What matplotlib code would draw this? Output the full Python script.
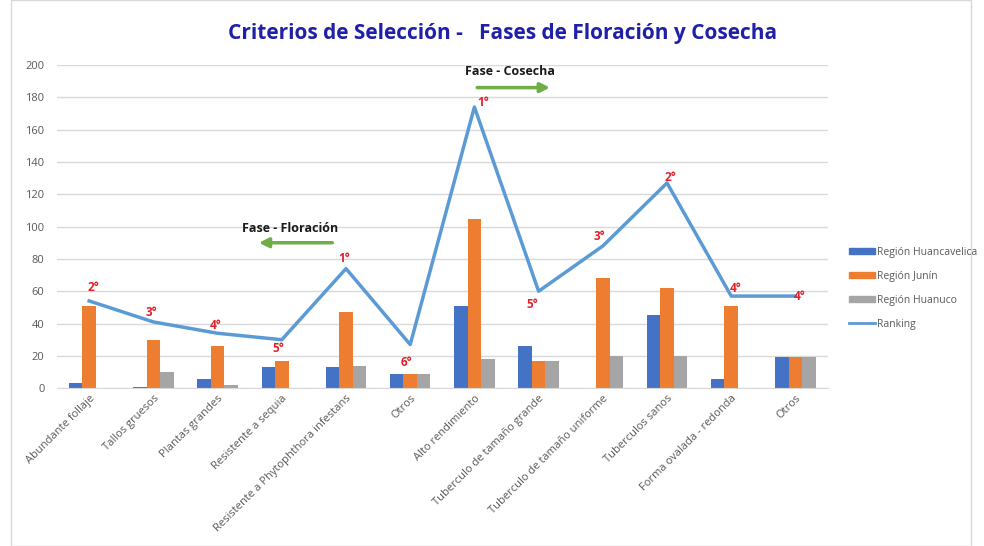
import numpy as np
import matplotlib
matplotlib.use("Agg")
import matplotlib.pyplot as plt
from matplotlib.patches import Patch, Rectangle
from matplotlib.lines import Line2D

plt.rcParams['font.family'] = ['Open Sans', 'DejaVu Sans']

CATEGORIES = [
    "Abundante follaje", "Tallos gruesos", "Plantas grandes", "Resistente a sequia",
    "Resistente a Phytophthora infestans", "Otros", "Alto rendimiento",
    "Tuberculo de tamaño grande", "Tuberculo de tamaño uniforme", "Tuberculos sanos",
    "Forma ovalada - redonda", "Otros",
]
HUANCAVELICA = [3, 1, 6, 13, 13, 9, 51, 26, 0, 45, 6, 19]
JUNIN = [51, 30, 26, 17, 47, 9, 105, 17, 68, 62, 51, 19]
HUANUCO = [0, 10, 2, 0, 14, 9, 18, 17, 20, 20, 0, 19]
RANKING = [54, 41, 34, 30, 74, 27, 174, 60, 88, 127, 57, 57]
RANK_LABELS = ["2°", "3°", "4°", "5°", "1°", "6°", "1°", "5°", "3°", "2°", "4°", "4°"]
# label offsets in pixels (dx, dy) relative to the ranking point
RANK_OFFSETS = [(4, 13), (-2, 9), (-2, 8), (-3, -9), (-2, 10), (-4, -18),
                (9, 4), (-6, -13), (-3, 9), (3, 5), (4, 8), (4, 0)]

BLUE = "#4472C4"
ORANGE = "#ED7D31"
GRAY = "#A5A5A5"
LINE = "#5B9BD5"

fig = plt.figure(figsize=(9.84, 5.46), dpi=100)
ax = fig.add_axes([0.058, 0.289, 0.783, 0.592])

x = np.arange(len(CATEGORIES))
w = 0.21
ax.bar(x - w, HUANCAVELICA, w, color=BLUE, zorder=2)
ax.bar(x, JUNIN, w, color=ORANGE, zorder=2)
ax.bar(x + w, HUANUCO, w, color=GRAY, zorder=2)
ax.plot(x, RANKING, color=LINE, lw=2.5, zorder=3)

for xi, yi, lab, (dx, dy) in zip(x, RANKING, RANK_LABELS, RANK_OFFSETS):
    ax.annotate(lab, (xi, yi), xytext=(dx, dy), textcoords="offset pixels",
                ha="center", va="center", color="#E0202A", fontsize=8.5,
                fontweight="bold", zorder=4)

ax.set_xlim(-0.5, len(CATEGORIES) - 0.5)
ax.set_ylim(0, 200)
ax.set_yticks(range(0, 201, 20))
ax.grid(axis="y", color="#D9D9D9", lw=1, zorder=0)
for s in ["top", "right", "left"]:
    ax.spines[s].set_visible(False)
ax.spines["bottom"].set_color("#D9D9D9")
ax.tick_params(axis="both", length=0, labelsize=8, colors="#595959")
ax.tick_params(axis="y", pad=9)
ax.set_xticks(x)
ax.set_xticklabels(CATEGORIES, rotation=45, ha="right", rotation_mode="anchor")

# phase annotations
ax.text(3.13, 95, "Fase - Floración", ha="center", va="bottom",
        fontsize=9, fontweight="bold", color="#1a1a1a")
ax.annotate("", xy=(2.6, 90), xytext=(3.83, 90),
            arrowprops=dict(arrowstyle="-|>", color="#70AD47", lw=2.5,
                            mutation_scale=14))
ax.text(6.55, 192, "Fase - Cosecha", ha="center", va="bottom",
        fontsize=9, fontweight="bold", color="#1a1a1a")
ax.annotate("", xy=(7.22, 186), xytext=(6.0, 186),
            arrowprops=dict(arrowstyle="-|>", color="#70AD47", lw=2.5,
                            mutation_scale=14))

fig.text(0.511, 0.938, "Criterios de Selección -   Fases de Floración y Cosecha",
         ha="center", va="center", fontsize=15, fontweight="bold", color="#1F1FA8")

handles = [Patch(color=BLUE), Patch(color=ORANGE), Patch(color=GRAY),
           Line2D([0], [0], color=LINE, lw=2)]
fig.legend(handles, ["Región Huancavelica", "Región Junín", "Región Huanuco", "Ranking"],
           loc="center left", bbox_to_anchor=(0.853, 0.472), frameon=False,
           fontsize=7.5, labelcolor="#595959", handlelength=2.5, handleheight=0.6,
           labelspacing=1.25, handletextpad=0.2)

fig.patches.append(Rectangle((0.011, 0.0), 0.976, 1.0, transform=fig.transFigure,
                             fill=False, edgecolor="#D9D9D9", lw=1))

fig.savefig("out.png", dpi=100)
